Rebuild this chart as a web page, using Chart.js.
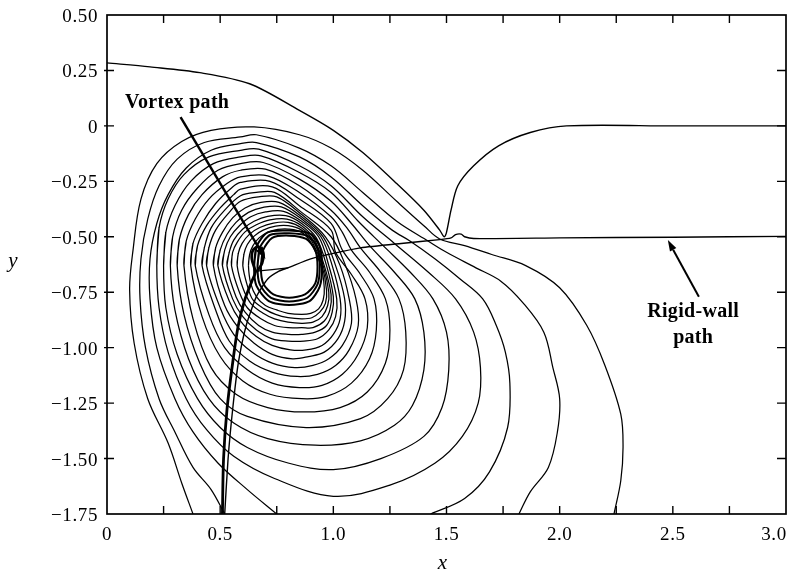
<!DOCTYPE html>
<html>
<head>
<meta charset="utf-8">
<script src="https://cdn.jsdelivr.net/npm/chart.js@4/dist/chart.umd.min.js"></script>
<style>
  html, body { margin: 0; padding: 0; background: #fff; }
  canvas { display: block; }
</style>
</head>
<body>
<canvas id="chart" width="798" height="573"></canvas>
<script>
// axis ticks
const xTickValues = [0, 0.5, 1.0, 1.5, 2.0, 2.5, 3.0];
const xTickLabels = ['0', '0.5', '1.0', '1.5', '2.0', '2.5', '3.0'];
const xTickMarks = [0.25, 0.5, 0.75, 1, 1.25, 1.5, 1.75, 2, 2.25, 2.5, 2.75];
const yTickValues = [0.5, 0.25, 0, -0.25, -0.5, -0.75, -1, -1.25, -1.5, -1.75];
const yTickLabels = ['0.50', '0.25', '0', '\u22120.25', '\u22120.50', '\u22120.75', '\u22121.00', '\u22121.25', '\u22121.50', '\u22121.75'];
const yTickMarks = [0.25, 0, -0.25, -0.5, -0.75, -1, -1.25, -1.5];

// dividing streamline (top curve with the cusp)
const topLine = [[0, 0.284], [0.19, 0.266], [0.41, 0.24], [0.63, 0.19], [0.85, 0.07], [1.0, -0.02], [1.13, -0.12],
  [1.28, -0.26], [1.40, -0.38], [1.47, -0.47], [1.49, -0.50], [1.50, -0.48], [1.52, -0.38], [1.55, -0.27],
  [1.62, -0.18], [1.73, -0.09], [1.87, -0.03], [2.03, 0.0], [2.5, 0.0], [3.0, 0.0]];

// open contours (cut by the lower boundary)
const c01 = [[0.38, -1.75], [0.33, -1.61], [0.27, -1.43], [0.18, -1.23], [0.12, -0.98], [0.10, -0.74], [0.115, -0.56],
  [0.15, -0.33], [0.22, -0.17], [0.33, -0.07], [0.46, -0.02], [0.65, -0.005], [0.85, -0.04], [0.99, -0.10],
  [1.13, -0.20], [1.28, -0.34], [1.40, -0.45], [1.47, -0.51], [1.58, -0.54], [1.70, -0.58], [1.85, -0.63],
  [2.0, -0.73], [2.12, -0.90], [2.20, -1.08], [2.27, -1.30], [2.28, -1.45], [2.27, -1.60], [2.24, -1.75]];
const c02 = [[0.52, -1.75], [0.46, -1.64], [0.38, -1.54], [0.30, -1.38], [0.23, -1.23], [0.17, -1.0], [0.146, -0.78],
  [0.15, -0.60], [0.18, -0.42], [0.23, -0.27], [0.31, -0.15], [0.43, -0.075], [0.59, -0.05], [0.66, -0.04],
  [0.85, -0.10], [0.99, -0.18], [1.13, -0.30], [1.28, -0.43], [1.42, -0.52], [1.50, -0.57], [1.63, -0.64],
  [1.74, -0.70], [1.84, -0.80], [1.93, -0.93], [1.97, -1.09], [2.0, -1.23], [1.99, -1.38], [1.95, -1.54],
  [1.87, -1.65], [1.82, -1.75]];
const c03 = [[0.75, -1.75], [0.62, -1.64], [0.49, -1.52], [0.38, -1.38], [0.30, -1.23], [0.22, -1.0], [0.19, -0.78],
  [0.19, -0.60], [0.22, -0.44], [0.27, -0.31], [0.35, -0.19], [0.46, -0.11], [0.59, -0.08], [0.66, -0.075],
  [0.85, -0.14], [0.99, -0.23], [1.13, -0.36], [1.26, -0.47], [1.34, -0.52], [1.45, -0.60], [1.56, -0.69],
  [1.66, -0.78], [1.72, -0.90], [1.76, -1.02], [1.78, -1.16], [1.77, -1.36], [1.69, -1.56], [1.58, -1.68],
  [1.43, -1.75]];

// closed contours around the vortex
const c04 = [[0.22, -0.63], [0.23, -0.46], [0.27, -0.33], [0.34, -0.22], [0.45, -0.14], [0.59, -0.11], [0.67, -0.105],
  [0.85, -0.18], [0.99, -0.27], [1.13, -0.41], [1.27, -0.53], [1.42, -0.66], [1.54, -0.78], [1.62, -0.93],
  [1.65, -1.09], [1.64, -1.25], [1.57, -1.40], [1.45, -1.52], [1.25, -1.62], [1.0, -1.67], [0.74, -1.59],
  [0.56, -1.49], [0.44, -1.37], [0.35, -1.23], [0.27, -1.02], [0.23, -0.82]];
const c05 = [[0.25, -0.63], [0.26, -0.48], [0.30, -0.36], [0.37, -0.25], [0.47, -0.17], [0.59, -0.14], [0.68, -0.135],
  [0.85, -0.21], [0.99, -0.30], [1.11, -0.43], [1.22, -0.54], [1.34, -0.66], [1.44, -0.78], [1.50, -0.93],
  [1.51, -1.10], [1.48, -1.27], [1.40, -1.40], [1.21, -1.50], [1.0, -1.55], [0.80, -1.52], [0.62, -1.45],
  [0.50, -1.36], [0.40, -1.23], [0.31, -1.03], [0.26, -0.82]];
const c06 = [[0.28, -0.63], [0.29, -0.50], [0.33, -0.38], [0.40, -0.28], [0.49, -0.20], [0.59, -0.17], [0.69, -0.165],
  [0.85, -0.24], [0.99, -0.34], [1.08, -0.44], [1.16, -0.54], [1.27, -0.66], [1.36, -0.78], [1.40, -0.93],
  [1.40, -1.10], [1.35, -1.26], [1.27, -1.35], [1.12, -1.42], [0.92, -1.44], [0.71, -1.41], [0.56, -1.34],
  [0.45, -1.23], [0.36, -1.05], [0.30, -0.83]];
const c07 = [[0.31, -0.63], [0.32, -0.51], [0.36, -0.40], [0.42, -0.31], [0.51, -0.23], [0.59, -0.20], [0.70, -0.195],
  [0.85, -0.27], [0.99, -0.38], [1.06, -0.46], [1.12, -0.55], [1.21, -0.66], [1.29, -0.78], [1.32, -0.93],
  [1.31, -1.10], [1.24, -1.23], [1.12, -1.32], [0.88, -1.36], [0.62, -1.31], [0.50, -1.23], [0.41, -1.07],
  [0.34, -0.85]];
const c08 = [[0.34, -0.63], [0.35, -0.52], [0.39, -0.42], [0.45, -0.33], [0.53, -0.26], [0.59, -0.23], [0.71, -0.225],
  [0.85, -0.30], [0.99, -0.41], [1.04, -0.48], [1.08, -0.56], [1.16, -0.66], [1.23, -0.78], [1.25, -0.92],
  [1.23, -1.07], [1.15, -1.20], [1.03, -1.27], [0.87, -1.29], [0.71, -1.27], [0.57, -1.21], [0.46, -1.09],
  [0.38, -0.87]];
const c09 = [[0.37, -0.63], [0.38, -0.53], [0.42, -0.44], [0.48, -0.35], [0.55, -0.28], [0.59, -0.255], [0.72, -0.25],
  [0.85, -0.33], [0.99, -0.44], [1.04, -0.56], [1.12, -0.67], [1.18, -0.78], [1.19, -0.92], [1.16, -1.05],
  [1.08, -1.16], [0.97, -1.22], [0.86, -1.23], [0.72, -1.21], [0.60, -1.15], [0.50, -1.04], [0.42, -0.86]];
const c10 = [[0.39, -0.63], [0.40, -0.54], [0.44, -0.45], [0.50, -0.37], [0.56, -0.31], [0.59, -0.285], [0.73, -0.275],
  [0.85, -0.36], [0.99, -0.47], [1.01, -0.57], [1.08, -0.67], [1.14, -0.78], [1.15, -0.91], [1.11, -1.03],
  [1.04, -1.12], [0.95, -1.17], [0.85, -1.18], [0.73, -1.16], [0.62, -1.10], [0.52, -1.00], [0.45, -0.85]];
const c11 = [[0.42, -0.63], [0.43, -0.55], [0.46, -0.46], [0.52, -0.38], [0.59, -0.315], [0.66, -0.30], [0.74, -0.30],
  [0.86, -0.39], [0.99, -0.50], [1.05, -0.62], [1.10, -0.78], [1.11, -0.90], [1.07, -1.01], [1.01, -1.08],
  [0.93, -1.12], [0.84, -1.13], [0.73, -1.11], [0.63, -1.06], [0.54, -0.97], [0.48, -0.83]];
const c12 = [[0.44, -0.63], [0.45, -0.55], [0.48, -0.47], [0.54, -0.39], [0.59, -0.34], [0.67, -0.32], [0.75, -0.32],
  [0.86, -0.40], [0.965, -0.50], [1.03, -0.63], [1.07, -0.78], [1.08, -0.89], [1.04, -0.99], [0.98, -1.05],
  [0.91, -1.08], [0.83, -1.09], [0.73, -1.07], [0.64, -1.02], [0.56, -0.94], [0.50, -0.82]];
const c13 = [[0.47, -0.63], [0.48, -0.55], [0.51, -0.48], [0.555, -0.415], [0.61, -0.37], [0.68, -0.345], [0.76, -0.345],
  [0.86, -0.41], [0.955, -0.50], [1.01, -0.63], [1.05, -0.78], [1.05, -0.88], [1.02, -0.96], [0.96, -1.02],
  [0.89, -1.04], [0.82, -1.05], [0.73, -1.03], [0.65, -0.98], [0.58, -0.91], [0.52, -0.81]];
const c14 = [[0.49, -0.63], [0.50, -0.56], [0.53, -0.49], [0.57, -0.435], [0.625, -0.39], [0.69, -0.367], [0.77, -0.365],
  [0.86, -0.42], [0.945, -0.50], [0.995, -0.63], [1.03, -0.78], [1.03, -0.87], [1.00, -0.94], [0.95, -0.99],
  [0.88, -1.01], [0.81, -1.01], [0.73, -0.99], [0.66, -0.95], [0.59, -0.88], [0.54, -0.79]];
const c15 = [[0.51, -0.63], [0.52, -0.56], [0.545, -0.50], [0.585, -0.45], [0.635, -0.41], [0.70, -0.388], [0.78, -0.385],
  [0.86, -0.43], [0.935, -0.50], [0.98, -0.63], [1.015, -0.78], [1.01, -0.86], [0.98, -0.92], [0.93, -0.96],
  [0.87, -0.97], [0.80, -0.97], [0.73, -0.96], [0.66, -0.92], [0.60, -0.86], [0.555, -0.78]];
const c16 = [[0.53, -0.63], [0.54, -0.57], [0.56, -0.515], [0.60, -0.465], [0.65, -0.43], [0.71, -0.408], [0.79, -0.405],
  [0.86, -0.44], [0.925, -0.505], [0.97, -0.63], [1.0, -0.77], [0.995, -0.84], [0.97, -0.90], [0.92, -0.93],
  [0.86, -0.94], [0.80, -0.94], [0.73, -0.93], [0.67, -0.90], [0.61, -0.84], [0.57, -0.77]];
const c17 = [[0.55, -0.63], [0.555, -0.57], [0.575, -0.525], [0.61, -0.478], [0.66, -0.446], [0.72, -0.424], [0.795, -0.42],
  [0.86, -0.45], [0.915, -0.51], [0.96, -0.63], [0.99, -0.76], [0.985, -0.83], [0.96, -0.88], [0.91, -0.91],
  [0.86, -0.91], [0.80, -0.91], [0.74, -0.90], [0.68, -0.87], [0.62, -0.82], [0.585, -0.75]];
const c18 = [[0.575, -0.63], [0.58, -0.575], [0.597, -0.53], [0.63, -0.488], [0.675, -0.458], [0.735, -0.438], [0.80, -0.435],
  [0.86, -0.46], [0.91, -0.515], [0.955, -0.63], [0.98, -0.75], [0.975, -0.81], [0.95, -0.86], [0.91, -0.885],
  [0.86, -0.89], [0.80, -0.885], [0.74, -0.87], [0.69, -0.845], [0.635, -0.80], [0.60, -0.73]];
const c19 = [[0.60, -0.63], [0.605, -0.578], [0.62, -0.535], [0.65, -0.497], [0.69, -0.47], [0.745, -0.452], [0.80, -0.45],
  [0.86, -0.47], [0.905, -0.52], [0.95, -0.63], [0.97, -0.74], [0.965, -0.80], [0.94, -0.84], [0.905, -0.865],
  [0.86, -0.87], [0.80, -0.865], [0.745, -0.85], [0.695, -0.825], [0.645, -0.785], [0.62, -0.72]];
const c20 = [[0.625, -0.63], [0.63, -0.58], [0.645, -0.54], [0.672, -0.505], [0.71, -0.48], [0.755, -0.467], [0.80, -0.465],
  [0.86, -0.48], [0.90, -0.525], [0.945, -0.63], [0.96, -0.73], [0.955, -0.785], [0.935, -0.825], [0.90, -0.845],
  [0.86, -0.85], [0.80, -0.845], [0.75, -0.83], [0.70, -0.81], [0.66, -0.77], [0.635, -0.71]];

// dense ring around the vortex core
const r1 = [[0.68, -0.635], [0.69, -0.56], [0.73, -0.505], [0.805, -0.495], [0.88, -0.51], [0.92, -0.56], [0.93, -0.635],
  [0.92, -0.71], [0.875, -0.76], [0.805, -0.775], [0.735, -0.76], [0.69, -0.71]];
const r2 = [[0.665, -0.635], [0.675, -0.55], [0.72, -0.492], [0.805, -0.484], [0.89, -0.498], [0.93, -0.55], [0.94, -0.635],
  [0.93, -0.715], [0.885, -0.775], [0.805, -0.792], [0.725, -0.775], [0.675, -0.715]];
const r3 = [[0.65, -0.635], [0.66, -0.545], [0.71, -0.48], [0.805, -0.472], [0.90, -0.487], [0.94, -0.545], [0.95, -0.635],
  [0.94, -0.725], [0.895, -0.79], [0.805, -0.808], [0.715, -0.79], [0.66, -0.72]];

// paths
const vortexPath = [[0.51, -1.75], [0.515, -1.5], [0.53, -1.28], [0.555, -1.07], [0.58, -0.90], [0.61, -0.78],
  [0.64, -0.70], [0.655, -0.66], [0.64, -0.60], [0.645, -0.56], [0.67, -0.545], [0.69, -0.57], [0.685, -0.62], [0.66, -0.66]];
const wallPath = [[0.52, -1.75], [0.535, -1.5], [0.555, -1.28], [0.58, -1.07], [0.615, -0.90], [0.66, -0.77],
  [0.71, -0.69], [0.76, -0.655], [0.80, -0.64], [0.90, -0.60], [1.00, -0.575], [1.12, -0.55], [1.30, -0.53],
  [1.47, -0.513], [1.52, -0.505], [1.54, -0.49], [1.565, -0.488], [1.58, -0.50], [1.62, -0.508], [2.0, -0.505],
  [2.5, -0.502], [3.0, -0.498]];
const wallStub = [[0.66, -0.655], [0.73, -0.648], [0.80, -0.64]];

const openContours = [c01, c02, c03];
const closedContours = [c04, c05, c06, c07, c08, c09, c10, c11, c12, c13, c14, c15, c16, c17, c18, c19, c20];
const rings = [r1, r2, r3];

const pts = a => a.map(([x, y]) => ({ x, y }));
// wrap round past the start so the curve closes without a corner
const closeLoop = a => a.concat([a[0], a[1]]);
const line = (d, w, t) => ({ data: pts(d), showLine: true, borderColor: '#000', borderWidth: w,
  pointRadius: 0, tension: t, fill: false });

const datasets = [];
datasets.push(line(topLine, 1.4, 0.3));
openContours.forEach(c => datasets.push(line(c, 1.25, 0.35)));
closedContours.forEach(c => datasets.push(line(closeLoop(c), 1.25, 0.35)));
rings.forEach(c => datasets.push(line(closeLoop(c), 2.0, 0.25)));
datasets.push(line(wallPath, 1.4, 0.2));
datasets.push(line(wallStub, 1.3, 0));
datasets.push(line(vortexPath, 2.8, 0.3));

function arrow(ctx, x0, y0, x1, y1, w, head) {
  const a = Math.atan2(y1 - y0, x1 - x0);
  const bx = x1 - head * Math.cos(a), by = y1 - head * Math.sin(a);
  ctx.lineWidth = w;
  ctx.beginPath(); ctx.moveTo(x0, y0); ctx.lineTo(bx, by); ctx.stroke();
  const s = head * 0.33;
  ctx.beginPath();
  ctx.moveTo(x1, y1);
  ctx.lineTo(bx + s * Math.sin(a), by - s * Math.cos(a));
  ctx.lineTo(bx - s * Math.sin(a), by + s * Math.cos(a));
  ctx.closePath(); ctx.fill();
}

const framePlugin = {
  id: 'frame',
  beforeDraw(chart) {
    const ctx = chart.ctx;
    ctx.save(); ctx.fillStyle = '#fff'; ctx.fillRect(0, 0, chart.width, chart.height); ctx.restore();
  },
  afterDraw(chart) {
    const { ctx, chartArea: a, scales: { x, y } } = chart;
    ctx.save();
    ctx.strokeStyle = '#000'; ctx.fillStyle = '#000';
    ctx.lineWidth = 1.7;
    ctx.strokeRect(a.left, a.top, a.right - a.left, a.bottom - a.top);

    ctx.lineWidth = 1.4;
    ctx.beginPath();
    xTickMarks.forEach(v => {
      const px = x.getPixelForValue(v);
      ctx.moveTo(px, a.bottom); ctx.lineTo(px, a.bottom - 8);
      ctx.moveTo(px, a.top); ctx.lineTo(px, a.top + 8);
    });
    yTickMarks.forEach(v => {
      const py = y.getPixelForValue(v);
      ctx.moveTo(a.left - 3, py); ctx.lineTo(a.left + 7, py);
      ctx.moveTo(a.right, py); ctx.lineTo(a.right - 9, py);
    });
    ctx.stroke();

    ctx.font = '19px "Liberation Serif", "Times New Roman", serif';
    ctx.letterSpacing = '0.6px';
    ctx.textAlign = 'center'; ctx.textBaseline = 'top';
    xTickValues.forEach((v, i) => {
      const px = Math.min(x.getPixelForValue(v), chart.width - 24);
      ctx.fillText(xTickLabels[i], px, a.bottom + 12);
    });
    ctx.textAlign = 'right'; ctx.textBaseline = 'middle';
    yTickValues.forEach((v, i) => ctx.fillText(yTickLabels[i], a.left - 9, y.getPixelForValue(v) + 2));

    ctx.letterSpacing = '0px';
    ctx.font = 'italic 21px "Liberation Serif", "Times New Roman", serif';
    ctx.textAlign = 'center';
    ctx.fillText('y', 13, 261);
    ctx.fillText('x', (a.left + a.right) / 2 - 4, 563);

    ctx.font = 'bold 20px "Liberation Serif", "Times New Roman", serif';
    ctx.letterSpacing = '0.3px';
    ctx.fillText('Vortex path', x.getPixelForValue(0.31), y.getPixelForValue(0.105));
    ctx.fillText('Rigid-wall', x.getPixelForValue(2.59), y.getPixelForValue(-0.84));
    ctx.fillText('path', x.getPixelForValue(2.59), y.getPixelForValue(-0.955));

    arrow(ctx, x.getPixelForValue(0.325), y.getPixelForValue(0.04),
      x.getPixelForValue(0.70), y.getPixelForValue(-0.60), 2.4, 12);
    arrow(ctx, x.getPixelForValue(2.615), y.getPixelForValue(-0.77),
      x.getPixelForValue(2.478), y.getPixelForValue(-0.515), 2.0, 11);
    ctx.restore();
  }
};

new Chart(document.getElementById('chart'), {
  type: 'scatter',
  data: { datasets },
  options: {
    responsive: false,
    animation: false,
    devicePixelRatio: 1,
    layout: { padding: { left: 107, top: 15, right: 12, bottom: 59 } },
    scales: {
      x: { type: 'linear', display: false, min: 0, max: 3 },
      y: { type: 'linear', display: false, min: -1.75, max: 0.5 }
    },
    plugins: { legend: { display: false }, tooltip: { enabled: false } }
  },
  plugins: [framePlugin]
});
</script>
</body>
</html>
